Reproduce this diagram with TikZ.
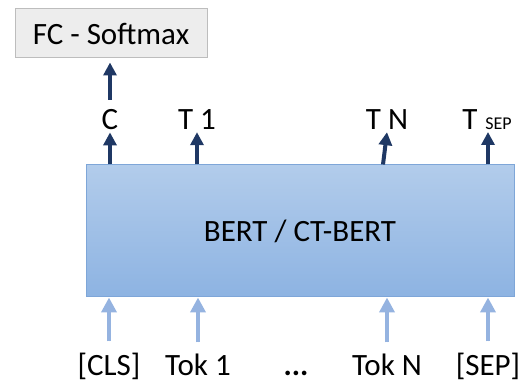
\documentclass[tikz,border=0pt]{standalone}
\usepackage{fontspec}
\setmainfont{Carlito}
\usetikzlibrary{arrows.meta,calc}
\definecolor{navy}{HTML}{1F3864}
\definecolor{lightarr}{HTML}{95B3E0}
\definecolor{boxtop}{HTML}{B2CCEB}
\definecolor{boxbot}{HTML}{8DB3E2}
\definecolor{boxline}{HTML}{7EA6D8}
\definecolor{fcfill}{HTML}{EDEDED}
\definecolor{fcline}{HTML}{BDBDBD}
\begin{document}
\begin{tikzpicture}[x=1pt,y=-1pt,
  lab/.style={inner sep=0pt, anchor=base, font=\fontsize{31}{36}\selectfont},
  darr/.style={draw=navy, line width=4pt, -{Triangle[width=13pt,length=13pt]}, fill=navy},
  larr/.style={draw=lightarr, line width=4.5pt, -{Triangle[width=15pt,length=15pt]}, fill=lightarr},
]
\useasboundingbox (0,0) rectangle (523,385);
% FC box
\node[draw=fcline, fill=fcfill, line width=1pt, minimum width=192pt, minimum height=49pt,
  inner sep=0pt, font=\fontsize{31}{36}\selectfont] (fc) at (111,33.5) {FC - Softmax};
% BERT box
\node[draw=boxline, line width=1pt, top color=boxtop, bottom color=boxbot,
  minimum width=428pt, minimum height=132pt, inner sep=0pt,
  font=\fontsize{31}{36}\selectfont] (bert) at (300,231) {BERT / CT-BERT};
% top labels
\node[lab] (c) at (110,130) {C};
\node[lab] (t1) at (197,130) {T 1};
\node[lab] (tn) at (387,130) {T N};
\node[lab] (tsep) at (487,130) {T\hspace{8pt}{\fontsize{18}{20}\selectfont SEP}};
% bottom labels
\node[lab] (cls) at (109,376) {[CLS]};
\node[lab] (tok1) at (198,376) {Tok 1};
\node[lab] (dots) at (296,375) {\textbf{...}};
\node[lab] (tokn) at (387,376) {Tok N};
\node[lab] (sep) at (488,376) {[SEP]};
% coordinates
\coordinate (cbase) at (bert.north -| c);
\coordinate (cup) at (110,100);
\coordinate (t1base) at (bert.north -| t1);
\coordinate (tnbase) at ($(bert.north -| tn)+(-4,0)$);
\coordinate (tseptip) at (488,132);
\coordinate (tsepbase) at (bert.north -| tseptip);
% dark arrows
\draw[darr] (cup) -- ($(fc.south -| cup)+(0,4)$);
\draw[darr] (cbase) -- ($(c.south)+(0,2)$);
\draw[darr] (t1base) -- ($(t1.south)+(0,2)$);
\draw[darr] (tnbase) -- ($(tn.south)+(0,2)$);
\draw[darr] (tsepbase) -- (tseptip);
% light arrows
\draw[larr] ($(cls.north)+(0,-12)$) -- (bert.south -| cls);
\draw[larr] ($(tok1.north)+(0,-12)$) -- (bert.south -| tok1);
\draw[larr] ($(tokn.north)+(0,-12)$) -- (bert.south -| tokn);
\draw[larr] ($(sep.north)+(0,-12)$) -- (bert.south -| sep);
\end{tikzpicture}
\end{document}
